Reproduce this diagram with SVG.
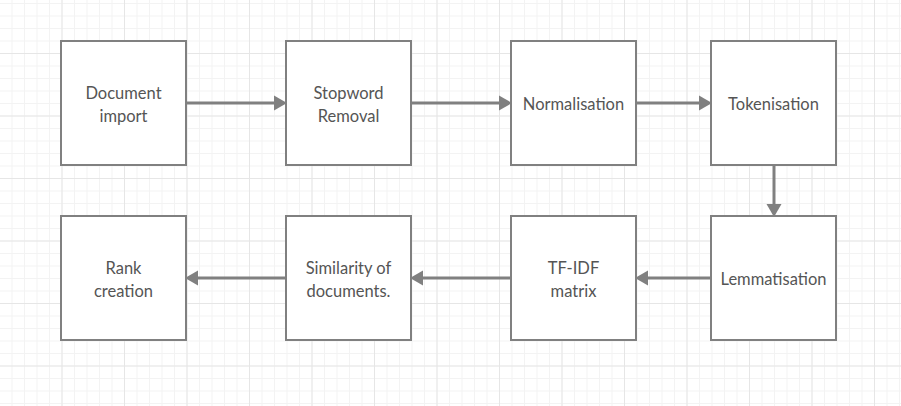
<svg xmlns="http://www.w3.org/2000/svg" width="901" height="406" viewBox="0 0 901 406">
<style>
.box{fill:#ffffff;stroke:#808080;stroke-width:2}
.lbl{font-family:Lato,"Liberation Sans",sans-serif;font-size:16.5px;fill:#555555;text-anchor:middle}
.con{stroke:#808080;stroke-width:3;fill:none}
.head{fill:#808080}
</style>
<defs>
<pattern id="minor" width="12.5" height="12.5" patternUnits="userSpaceOnUse" x="-1" y="3">
<path d="M0 0.5H12.5M0.5 0V12.5" stroke="#f3f3f3" stroke-width="1" fill="none"/>
</pattern>
<pattern id="major" width="62.5" height="62.5" patternUnits="userSpaceOnUse" x="-1" y="-9.5">
<path d="M0 0.5H62.5M0.5 0V62.5" stroke="#e6e6e6" stroke-width="1" fill="none"/>
</pattern>
</defs>
<rect width="901" height="406" fill="#ffffff"/>
<rect width="901" height="406" fill="url(#minor)"/>
<rect width="901" height="406" fill="url(#major)"/>
<g id="connectors">
<line class="con" x1="187" y1="103" x2="276" y2="103"/>
<polygon class="head" points="287,103 274,95.5 274,110.5"/>
<line class="con" x1="412" y1="103" x2="501" y2="103"/>
<polygon class="head" points="512,103 499,95.5 499,110.5"/>
<line class="con" x1="637" y1="103" x2="701" y2="103"/>
<polygon class="head" points="712,103 699,95.5 699,110.5"/>
<line class="con" x1="774" y1="166" x2="774" y2="206"/>
<polygon class="head" points="774,217 766.5,204 781.5,204"/>
<line class="con" x1="711" y1="278" x2="646" y2="278"/>
<polygon class="head" points="635,278 648,270.5 648,285.5"/>
<line class="con" x1="511" y1="278" x2="421" y2="278"/>
<polygon class="head" points="410,278 423,270.5 423,285.5"/>
<line class="con" x1="286" y1="278" x2="196" y2="278"/>
<polygon class="head" points="185,278 198,270.5 198,285.5"/>
</g>
<g id="document-import">
<rect class="box" x="61" y="41" width="125" height="124"/>
<text class="lbl" x="123.5" y="99">Document</text>
<text class="lbl" x="123.5" y="122">import</text>
</g>
<g id="stopword-removal">
<rect class="box" x="286" y="41" width="125" height="124"/>
<text class="lbl" x="348.5" y="99">Stopword</text>
<text class="lbl" x="348.5" y="122">Removal</text>
</g>
<g id="normalisation">
<rect class="box" x="511" y="41" width="125" height="124"/>
<text class="lbl" x="573.5" y="110">Normalisation</text>
</g>
<g id="tokenisation">
<rect class="box" x="711" y="41" width="125" height="124"/>
<text class="lbl" x="773.5" y="110">Tokenisation</text>
</g>
<g id="lemmatisation">
<rect class="box" x="711" y="216" width="125" height="124"/>
<text class="lbl" x="773.5" y="285">Lemmatisation</text>
</g>
<g id="tf-idf-matrix">
<rect class="box" x="511" y="216" width="125" height="124"/>
<text class="lbl" x="573.5" y="274">TF-IDF</text>
<text class="lbl" x="573.5" y="297">matrix</text>
</g>
<g id="similarity">
<rect class="box" x="286" y="216" width="125" height="124"/>
<text class="lbl" x="348.5" y="274">Similarity of</text>
<text class="lbl" x="348.5" y="297">documents.</text>
</g>
<g id="rank-creation">
<rect class="box" x="61" y="216" width="125" height="124"/>
<text class="lbl" x="123.5" y="274">Rank</text>
<text class="lbl" x="123.5" y="297">creation</text>
</g>
</svg>
